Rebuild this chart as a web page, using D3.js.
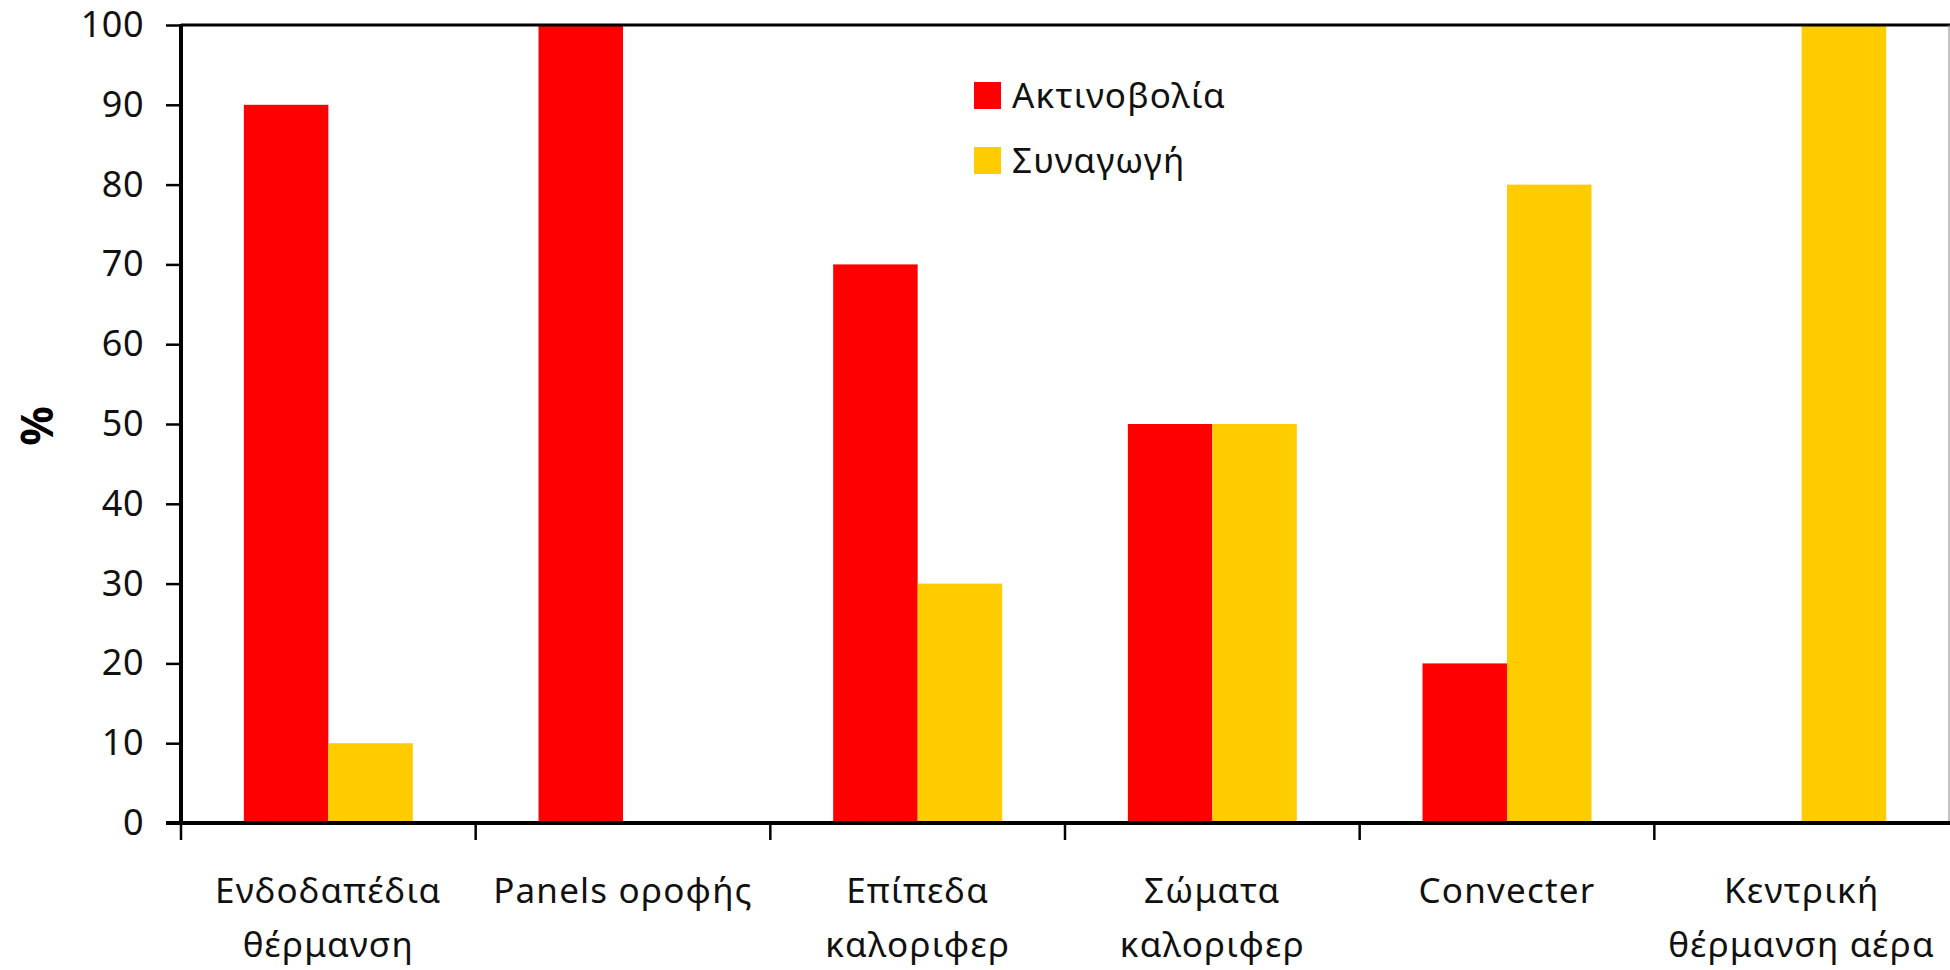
<!DOCTYPE html>
<html>
<head>
<meta charset="utf-8">
<script src="https://cdn.jsdelivr.net/npm/d3@7"></script>
<style>
  html, body { margin: 0; padding: 0; background: #fff; }
  svg { display: block; }
  text { font-family: "Noto Sans", "DejaVu Sans", sans-serif; }
</style>
</head>
<body>
<svg id="chart" width="1950" height="970"></svg>
<script>
// ---- data ----
const categories = [
  ["Ενδοδαπέδια", "θέρμανση"],
  ["Panels οροφής"],
  ["Επίπεδα", "καλοριφερ"],
  ["Σώματα", "καλοριφερ"],
  ["Convecter"],
  ["Κεντρική", "θέρμανση αέρα"]
];
const seriesNames = ["Ακτινοβολία", "Συναγωγή"];
const radiation = [90, 100, 70, 50, 20, 0];
const convection = [10, 0, 30, 50, 80, 100];
const seriesColors = ["#FF0000", "#FFCC00"];
const yTicks = [0, 10, 20, 30, 40, 50, 60, 70, 80, 90, 100];
const yLabel = "%";

// ---- layout ----
const svg = d3.select("#chart");
const mLeft = 181, mRight = 1949, mTop = 25, mBottom = 823;
const FONT = "Noto Sans, DejaVu Sans, sans-serif";
const catKeys = categories.map((c, i) => i);

const x0 = d3.scaleBand().domain(catKeys).range([mLeft, mRight]).padding(0);
const x1 = d3.scaleBand().domain([0, 1]).range([0, x0.bandwidth()])
  .paddingInner(0).paddingOuter(0.744);
const y = d3.scaleLinear().domain([0, 100]).range([mBottom, mTop]);

const rows = catKeys.map(i => [radiation[i], convection[i]]);

// bars
const g = svg.append("g");
rows.forEach((vals, i) => {
  vals.forEach((v, s) => {
    if (v <= 0) return;
    g.append("rect")
      .attr("x", x0(i) + x1(s))
      .attr("y", y(v))
      .attr("width", x1.bandwidth())
      .attr("height", y(0) - y(v))
      .attr("fill", seriesColors[s]);
  });
});

// plot border: top line, right thin gray
svg.append("line").attr("x1", mLeft).attr("x2", mRight + 1).attr("y1", mTop).attr("y2", mTop)
  .attr("stroke", "#000").attr("stroke-width", 3);
svg.append("line").attr("x1", mRight).attr("x2", mRight).attr("y1", mTop).attr("y2", mBottom)
  .attr("stroke", "#888").attr("stroke-width", 1);

// y axis
const yAxis = svg.append("g")
  .attr("transform", `translate(${mLeft},0)`)
  .call(d3.axisLeft(y).tickValues(yTicks).tickSize(15).tickPadding(22).tickFormat(d3.format("d")));
yAxis.select(".domain").attr("stroke", "#000").attr("stroke-width", 4)
  .attr("d", `M0,${mTop - 1}V${mBottom + 2}`);
yAxis.selectAll(".tick line").attr("stroke", "#000").attr("stroke-width", 2.5);
yAxis.selectAll(".tick text")
  .attr("font-family", FONT)
  .attr("font-size", 36).attr("letter-spacing", 0.5).attr("fill", "#111");

// x axis
const xAxis = svg.append("g")
  .attr("transform", `translate(0,${mBottom})`);
xAxis.append("line").attr("x1", mLeft - 15).attr("x2", mRight + 1).attr("y1", 0).attr("y2", 0)
  .attr("stroke", "#000").attr("stroke-width", 4);
const boundaries = catKeys.map(i => x0(i));
xAxis.selectAll(".xtick").data(boundaries).enter().append("line")
  .attr("x1", d => d).attr("x2", d => d).attr("y1", 0).attr("y2", 17)
  .attr("stroke", "#000").attr("stroke-width", 2.5);

// category labels
categories.forEach((lines, i) => {
  const cx = x0(i) + x0.bandwidth() / 2;
  const t = svg.append("text")
    .attr("x", cx).attr("y", 903)
    .attr("text-anchor", "middle")
    .attr("font-size", 35).attr("letter-spacing", 1.2).attr("fill", "#111");
  lines.forEach((ln, k) => {
    t.append("tspan").attr("x", cx).attr("dy", k === 0 ? 0 : 54).text(ln);
  });
});

// y label
svg.append("text")
  .attr("transform", `translate(53,${(mTop + mBottom) / 2 + 2}) rotate(-90)`)
  .attr("text-anchor", "middle")
  .attr("font-size", 44).attr("font-weight", "bold").attr("fill", "#000")
  .text(yLabel);

// legend
const legend = svg.append("g").attr("transform", "translate(974,82)");
seriesNames.forEach((name, s) => {
  const row = legend.append("g").attr("transform", `translate(0,${s * 65})`);
  row.append("rect").attr("width", 27).attr("height", 27).attr("fill", seriesColors[s]);
  row.append("text").attr("x", 38).attr("y", 26)
    .attr("font-size", 35).attr("letter-spacing", 1.2).attr("fill", "#111").text(name);
});
</script>
</body>
</html>
